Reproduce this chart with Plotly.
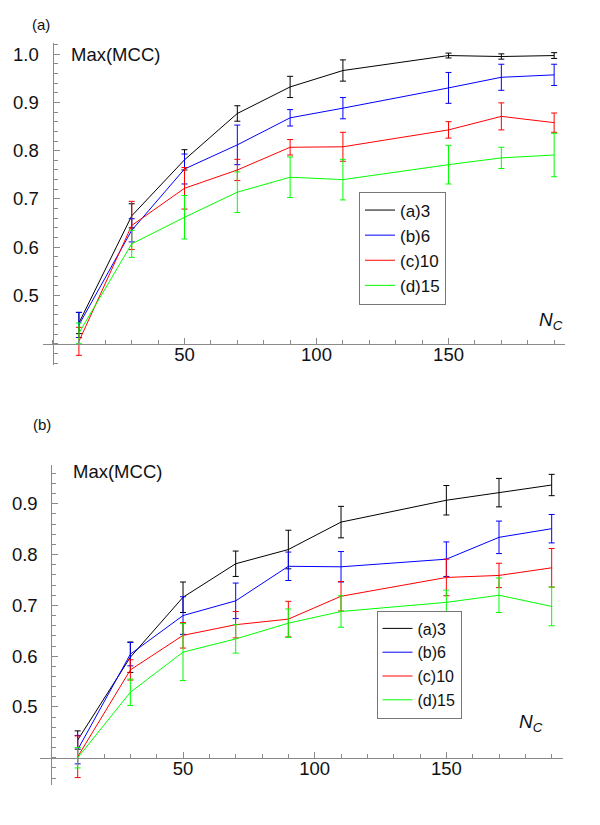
import plotly.graph_objects as go

# ---------------- data ----------------
NC = [10, 30, 50, 70, 90, 110, 150, 170, 190]
SERIES_NAMES = ["(a)3", "(b)6", "(c)10", "(d)15"]
SERIES_COLORS = ["#000000", "#0000ff", "#ff0000", "#00ff00"]

# panel (a)
A3_MEAN = [0.443, 0.665, 0.781, 0.877, 0.932, 0.966, 0.997, 0.995, 0.997]
A3_ERR = [0.022, 0.025, 0.021, 0.016, 0.022, 0.022, 0.005, 0.0055, 0.006]
A6_MEAN = [0.439, 0.635, 0.762, 0.812, 0.868, 0.888, 0.930, 0.952, 0.957]
A6_ERR = [0.026, 0.024, 0.031, 0.041, 0.017, 0.022, 0.032, 0.027, 0.022]
A10_MEAN = [0.405, 0.645, 0.722, 0.760, 0.807, 0.808, 0.843, 0.871, 0.858]
A10_ERR = [0.029, 0.050, 0.043, 0.022, 0.016, 0.030, 0.017, 0.028, 0.020]
A15_MEAN = [0.422, 0.607, 0.662, 0.714, 0.745, 0.740, 0.771, 0.785, 0.791]
A15_ERR = [0.021, 0.028, 0.045, 0.042, 0.042, 0.042, 0.040, 0.022, 0.045]

# panel (b)
B3_MEAN = [0.435, 0.598, 0.716, 0.782, 0.810, 0.864, 0.907, 0.922, 0.937]
B3_ERR = [0.018, 0.030, 0.030, 0.025, 0.038, 0.031, 0.029, 0.028, 0.021]
B6_MEAN = [0.416, 0.604, 0.680, 0.709, 0.777, 0.776, 0.791, 0.834, 0.851]
B6_ERR = [0.028, 0.023, 0.037, 0.035, 0.028, 0.030, 0.034, 0.032, 0.028]
B10_MEAN = [0.402, 0.573, 0.641, 0.662, 0.673, 0.718, 0.755, 0.759, 0.774]
B10_ERR = [0.041, 0.020, 0.025, 0.026, 0.035, 0.029, 0.036, 0.024, 0.038]
B15_MEAN = [0.400, 0.529, 0.608, 0.634, 0.665, 0.688, 0.706, 0.720, 0.698]
B15_ERR = [0.020, 0.026, 0.056, 0.028, 0.028, 0.031, 0.024, 0.034, 0.038]

X_TICKS = [50, 100, 150]
A_Y_TICKS = [0.5, 0.6, 0.7, 0.8, 0.9, 1.0]
B_Y_TICKS = [0.5, 0.6, 0.7, 0.8, 0.9]
Y_LABEL = "Max(MCC)"
X_LABEL = "<i>N</i><sub><i>C</i></sub>"
X_CROSS = 0      # where the y axis crosses the x axis
Y_CROSS = 0.4    # where the x axis crosses the y axis

# ---------------- layout helpers ----------------
W, H = 600, 825


def px(x):
    return x / W


def py(y):
    return 1 - y / H


FONT = "Liberation Sans, Arial, sans-serif"

fig = go.Figure()

panel_a = [(A3_MEAN, A3_ERR), (A6_MEAN, A6_ERR), (A10_MEAN, A10_ERR), (A15_MEAN, A15_ERR)]
panel_b = [(B3_MEAN, B3_ERR), (B6_MEAN, B6_ERR), (B10_MEAN, B10_ERR), (B15_MEAN, B15_ERR)]

for panel, (xa, ya, leg) in zip([panel_a, panel_b],
                                [("x", "y", "legend"), ("x2", "y2", "legend2")]):
    for (mean, err), name, col in zip(panel, SERIES_NAMES, SERIES_COLORS):
        fig.add_trace(go.Scatter(
            x=NC, y=mean, name=name, mode="lines",
            line=dict(color=col, width=1),
            error_y=dict(type="data", array=err, visible=True,
                         color=col, thickness=1, width=3),
            xaxis=xa, yaxis=ya, legend=leg, cliponaxis=False,
        ))

# axis geometry (pixel extents of the drawn axes)
A_XR = [-3.6, 194.0]
A_YR = [0.356, 1.023]
A_XD = [px(35), px(556.7)]
A_YD = [py(357), py(35)]

B_XR = [-4.2, 194.3]
B_YR = [0.347, 0.977]
B_XD = [px(32.3), px(555)]
B_YD = [py(776.7), py(456.7)]


def cross_pos(val, rng, dom):
    return dom[0] + (val - rng[0]) / (rng[1] - rng[0]) * (dom[1] - dom[0])


common = dict(showgrid=False, zeroline=False, showline=True,
              linecolor="#8a8a8a", linewidth=1, ticks="inside",
              tickcolor="#8a8a8a", tickwidth=1, ticklen=6,
              tickfont=dict(family=FONT, size=18.5, color="#111"))

XSTAND = -6
YSTAND = 10

fig.update_layout(
    width=W, height=H, margin=dict(l=0, r=0, t=0, b=0),
    paper_bgcolor="white", plot_bgcolor="white",
    font=dict(family=FONT, color="#111"),
    xaxis=dict(range=A_XR, domain=A_XD, anchor="free",
               position=cross_pos(Y_CROSS, A_YR, A_YD),
               tickmode="array", tickvals=X_TICKS,
               minor=dict(dtick=10, tick0=0, ticks="inside", ticklen=4,
                          tickcolor="#8a8a8a"),
               ticklabelstandoff=XSTAND, **common),
    yaxis=dict(range=A_YR, domain=A_YD, anchor="free",
               position=cross_pos(X_CROSS, A_XR, A_XD),
               tickmode="array", tickvals=A_Y_TICKS, tickformat=".1f",
               minor=dict(dtick=0.02, tick0=0, ticks="inside", ticklen=4,
                          tickcolor="#8a8a8a"),
               ticklabelstandoff=YSTAND, **common),
    xaxis2=dict(range=B_XR, domain=B_XD, anchor="free",
                position=cross_pos(Y_CROSS, B_YR, B_YD),
                tickmode="array", tickvals=X_TICKS,
                minor=dict(dtick=10, tick0=0, ticks="inside", ticklen=4,
                           tickcolor="#8a8a8a"),
                ticklabelstandoff=XSTAND, **common),
    yaxis2=dict(range=B_YR, domain=B_YD, anchor="free",
                position=cross_pos(X_CROSS, B_XR, B_XD),
                tickmode="array", tickvals=B_Y_TICKS, tickformat=".1f",
                minor=dict(dtick=0.02, tick0=0, ticks="inside", ticklen=4,
                           tickcolor="#8a8a8a"),
                ticklabelstandoff=YSTAND, **common),
    legend=dict(x=px(351), y=py(183.5), xanchor="left", yanchor="top",
                bordercolor="#777", borderwidth=1, bgcolor="white",
                font=dict(family=FONT, size=17, color="#111"),
                tracegroupgap=0, itemwidth=30),
    legend2=dict(x=px(368.5), y=py(602.5), xanchor="left", yanchor="top",
                 bordercolor="#777", borderwidth=1, bgcolor="white",
                 font=dict(family=FONT, size=16, color="#111"),
                 tracegroupgap=0, itemwidth=30),
)

ann = [
    dict(text="(a)", x=px(22), y=py(16.5), xanchor="left", yanchor="middle", size=15),
    dict(text="(b)", x=px(22.5), y=py(416), xanchor="left", yanchor="middle", size=15),
    dict(text=Y_LABEL, x=px(61), y=py(46.5), xanchor="left", yanchor="middle", size=18.5),
    dict(text=Y_LABEL, x=px(63), y=py(464), xanchor="left", yanchor="middle", size=18.5),
    dict(text=X_LABEL, x=px(529), y=py(313), xanchor="left", yanchor="middle", size=19),
    dict(text=X_LABEL, x=px(509), y=py(715), xanchor="left", yanchor="middle", size=19),
]
for a in ann:
    fig.add_annotation(text=a["text"], x=a["x"], y=a["y"], xref="paper", yref="paper",
                       xanchor=a["xanchor"], yanchor=a["yanchor"], showarrow=False,
                       font=dict(family=FONT, size=a["size"], color="#111"))

fig.write_html("out.html")
